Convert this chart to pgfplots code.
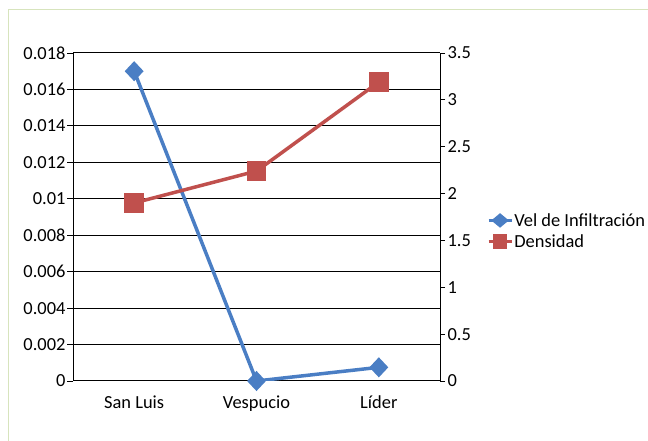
\documentclass[border=0pt]{standalone}
\usepackage{pgfplots}
\pgfplotsset{compat=1.18}
\usepackage{fontspec}
\setmainfont{Carlito}
\definecolor{serA}{HTML}{4A7EC4}
\definecolor{serB}{HTML}{C0504D}
\definecolor{frame}{HTML}{D7E4BD}
\begin{document}
\begin{tikzpicture}[x=1bp,y=1bp]
\path[use as bounding box] (0,0) rectangle (648,441);
\draw[frame, line width=1bp] (648,431) -- (8,431) -- (8,0);
\pgfplotsset{
  base/.style={
    scale only axis, width=367bp, height=328bp,
    at={(73bp,60bp)}, anchor=south west,
    xmin=-0.5, xmax=2.5,
    font=\fontsize{18.5}{20}\selectfont,
    /pgf/number format/assume math mode=true,
    scaled y ticks=false,
    tick style={black, line width=0.9bp},
    tick align=outside,
    major tick length=6bp,
  }
}
\begin{axis}[base,
  ymin=0, ymax=0.018,
  axis y line*=left,
  axis x line*=bottom,
  axis line style={black, line width=1bp},
  ytick={0,0.002,0.004,0.006,0.008,0.01,0.012,0.014,0.016,0.018},
  yticklabels={0,0.002,0.004,0.006,0.008,0.01,0.012,0.014,0.016,0.018},
  ymajorgrids, major grid style={black, line width=1bp},
  xtick={0,1,2},
  xticklabels={San Luis,Vespucio,Líder},
  x tick style={draw=none},
  minor xtick={-0.5,0.5,1.5,2.5},
  minor x tick style={black, line width=0.9bp},
  minor tick length=6bp,
  xticklabel style={yshift=-5bp},
  yticklabel style={xshift=2bp},
]
\addplot[serA, line width=3.5bp, mark=diamond*, mark size=7.5bp, mark options={xscale=1.25, solid}]
  coordinates {(0,0.017) (1,0) (2,0.00075)};
\end{axis}
\begin{axis}[base,
  ymin=0, ymax=3.5,
  axis y line*=right,
  axis x line=none,
  axis line style={black, line width=1bp},
  major tick length=5bp,
  ytick={0,0.5,1,1.5,2,2.5,3,3.5},
  yticklabels={0,0.5,1,1.5,2,2.5,3,3.5},
  yticklabel style={xshift=-1bp},
  legend style={at={(1.127,0.457)}, anchor=west, draw=none, fill=none,
    font=\fontsize{18.5}{20}\selectfont, row sep=5bp, inner sep=0pt,
    nodes={inner sep=1bp}},
  legend cell align=left,
  legend image code/.code={\draw[#1] plot coordinates {(0bp,0bp) (11.5bp,0bp) (23bp,0bp)};},
]
\addplot[serB, line width=3.5bp, mark=square*, mark size=8bp, mark options={solid}, forget plot]
  coordinates {(0,1.9) (1,2.24) (2,3.19)};
\addlegendimage{serA, line width=3.5bp, mark=diamond*, mark size=5bp, mark repeat=2, mark phase=2, mark options={xscale=1.6}}
\addlegendentry{Vel de Infiltración}
\addlegendimage{serB, line width=3.5bp, mark=square*, mark size=5.5bp, mark repeat=2, mark phase=2}
\addlegendentry{Densidad}
\end{axis}
\end{tikzpicture}
\end{document}
